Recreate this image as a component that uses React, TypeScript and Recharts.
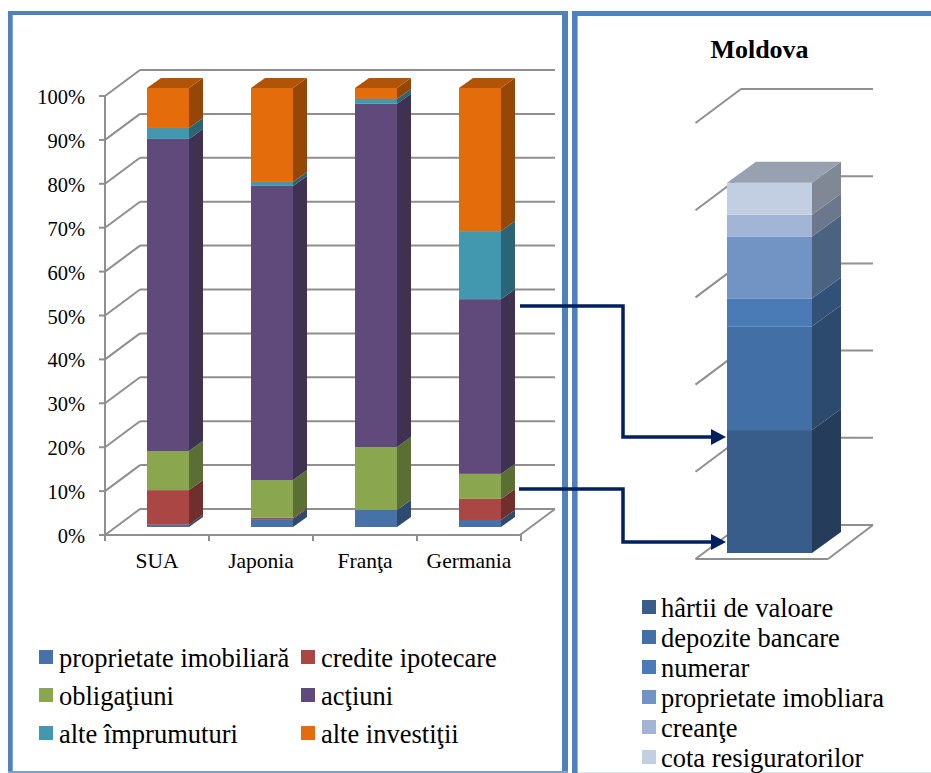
import { BarChart, Bar, CartesianGrid, XAxis, YAxis } from 'recharts'

const FONT = '"Liberation Serif", "Times New Roman", serif'
const GRID = '#8f8f8f'
const BORDER = '#4f81bd'
const NAVY = '#002060'

const countries = ['SUA', 'Japonia', 'Franţa', 'Germania']
const percentTicks = [0, 10, 20, 30, 40, 50, 60, 70, 80, 90, 100]

const proprietate = [0.5, 1.8, 3.9, 1.6]
const credite = [7.9, 0.3, 0, 4.8]
const obligatiuni = [8.9, 8.6, 14.3, 5.7]
const actiuni = [71.1, 67.0, 78.2, 39.8]
const imprumuturi = [2.5, 0.9, 1.1, 15.5]
const investitii = [9.1, 21.4, 2.5, 32.6]

const worldKeys = ['proprietate', 'credite', 'obligatiuni', 'actiuni', 'imprumuturi', 'investitii']
const worldSeries = [proprietate, credite, obligatiuni, actiuni, imprumuturi, investitii]
const worldNames = [
    'proprietate imobiliară',
    'credite ipotecare',
    'obligaţiuni',
    'acţiuni',
    'alte împrumuturi',
    'alte investiţii',
]
const worldColors = ['#4672a8', '#aa4644', '#8aa64f', '#604a7b', '#4198af', '#e46c0a']

const moldovaTicks = [0, 20, 40, 60, 80, 100]
const moldovaKeys = ['hartii', 'depozite', 'numerar', 'imobiliara', 'creante', 'cota']
const moldovaValues = [28.2, 23.8, 6.4, 14.2, 5.0, 7.3]
const moldovaNames = [
    'hârtii de valoare',
    'depozite bancare',
    'numerar',
    'proprietate imobliara',
    'creanţe',
    'cota resiguratorilor',
]
const moldovaColors = ['#385d8a', '#426fa6', '#4a7bb6', '#7294c4', '#a2b5d6', '#c2cee2']

const worldData = countries.map((name, i) => {
    const row: Record<string, string | number> = { name }
    worldKeys.forEach((key, k) => {
        row[key] = worldSeries[k][i]
    })
    return row
})

const moldovaRow: Record<string, string | number> = { name: 'Moldova' }
moldovaKeys.forEach((key, k) => {
    moldovaRow[key] = moldovaValues[k]
})
const moldovaData = [moldovaRow]

function shade(hex: string, factor: number): string {
    const n = parseInt(hex.slice(1), 16)
    const channel = (shift: number) => Math.round(((n >> shift) & 255) * factor)
    return `rgb(${channel(16)},${channel(8)},${channel(0)})`
}

// front face, right side and (for the top segment) the lid of a box
function Box3D({ x, y, width, height, fill, dx, dy, lid }: any) {
    if (!height || height <= 0) {
        return null
    }
    const r = x + width
    const b = y + height
    return (
        <g>
            <rect x={x} y={y} width={width} height={height} fill={fill} />
            <polygon
                points={`${r},${y} ${r + dx},${y - dy} ${r + dx},${b - dy} ${r},${b}`}
                fill={shade(fill, 0.66)}
            />
            {lid ? (
                <polygon
                    points={`${x},${y} ${x + dx},${y - dy} ${r + dx},${y - dy} ${r},${y}`}
                    fill={shade(fill, 0.78)}
                />
            ) : null}
        </g>
    )
}

const WALL = { drop: 8, axisX: 105, backX: 140, rightX: 555, rise: 26 }

function line(x1: number, y1: number, x2: number, y2: number, width = 2) {
    return <line x1={x1} y1={y1} x2={x2} y2={y2} stroke={GRID} strokeWidth={width} />
}

// left chart: wall lines are shifted down to the front plane of the 3D box
function WorldWallLine({ y1 }: any) {
    const fy = y1 + WALL.drop
    const isFloor = y1 > 520
    return (
        <g key={y1}>
            {line(WALL.axisX - 6, fy, WALL.axisX, fy)}
            {line(WALL.axisX, fy, WALL.backX, fy - WALL.rise)}
            {line(WALL.backX, fy - WALL.rise, WALL.rightX, fy - WALL.rise)}
            {isFloor ? line(WALL.axisX, fy, WALL.axisX, 96) : null}
            {isFloor ? line(WALL.axisX, fy, 520, fy) : null}
            {isFloor ? line(520, fy, WALL.rightX, fy - WALL.rise) : null}
        </g>
    )
}

function WorldYTick({ y, payload }: any) {
    return (
        <text x={85} y={y + WALL.drop + 8} textAnchor="end" fontFamily={FONT} fontSize={20.5} fill="#000">
            {payload.value}%
        </text>
    )
}

function WorldXTick({ x, payload }: any) {
    const cx = x - 11
    return (
        <g>
            {line(cx - 52, 535, cx - 52, 541)}
            {line(cx + 52, 535, cx + 52, 541)}
            <text x={cx} y={568} textAnchor="middle" fontFamily={FONT} fontSize={21.5} fill="#000">
                {payload.value}
            </text>
        </g>
    )
}

// right chart has no labels, only the diagonal and back lines of the box (local coordinates)
function MoldovaWallLine({ y1 }: any) {
    const fy = y1 + 6
    const isFloor = y1 > 540
    return (
        <g key={y1}>
            {line(125.5, fy, 171, fy - 34)}
            {line(171, fy - 34, 303, fy - 34)}
            {isFloor ? line(125.5, fy, 258, fy) : null}
            {isFloor ? line(258, fy, 303, fy - 34) : null}
        </g>
    )
}

function WorldChart() {
    return (
        <div style={{ position: 'absolute', left: 0, top: 0 }}>
            <BarChart
                width={560}
                height={620}
                data={worldData}
                barSize={42}
                margin={{ top: 88, right: 28, bottom: 63, left: 56 }}
            >
                <CartesianGrid vertical={false} horizontal={WorldWallLine} />
                <XAxis dataKey="name" height={30} axisLine={false} tickLine={false} tick={WorldXTick} interval={0} />
                <YAxis
                    width={60}
                    domain={[0, 100]}
                    ticks={percentTicks}
                    interval={0}
                    axisLine={false}
                    tickLine={false}
                    tick={WorldYTick}
                />
                {worldKeys.map((key, k) => (
                    <Bar
                        key={key}
                        dataKey={key}
                        stackId="a"
                        fill={worldColors[k]}
                        isAnimationActive={false}
                        shape={(p: any) => <Box3D {...p} dx={14} dy={10} lid={k === worldKeys.length - 1} />}
                    />
                ))}
            </BarChart>
        </div>
    )
}

function MoldovaChart() {
    return (
        <div style={{ position: 'absolute', left: 570, top: 0 }}>
            <BarChart
                width={361}
                height={620}
                data={moldovaData}
                barSize={85}
                margin={{ top: 117, right: 92, bottom: 67, left: 130 }}
            >
                <CartesianGrid vertical={false} horizontal={MoldovaWallLine} />
                <XAxis dataKey="name" hide />
                <YAxis hide domain={[0, 100]} ticks={moldovaTicks} interval={0} />
                {moldovaKeys.map((key, k) => (
                    <Bar
                        key={key}
                        dataKey={key}
                        stackId="m"
                        fill={moldovaColors[k]}
                        isAnimationActive={false}
                        shape={(p: any) => <Box3D {...p} dx={29} dy={21} lid={k === moldovaKeys.length - 1} />}
                    />
                ))}
            </BarChart>
        </div>
    )
}

function LegendItem({ x, y, textX, color, label }: { x: number; y: number; textX: number; color: string; label: string }) {
    return (
        <g>
            <rect x={x} y={y - 16} width={14} height={14} fill={color} />
            <text x={textX} y={y + 1} fontFamily={FONT} fontSize={26.5} fill="#000">
                {label}
            </text>
        </g>
    )
}

function Arrow({ points, tipX, tipY }: { points: string; tipX: number; tipY: number }) {
    return (
        <g>
            <polyline points={points} fill="none" stroke={NAVY} strokeWidth={3.5} />
            <polygon points={`${tipX},${tipY} ${tipX - 15},${tipY - 8} ${tipX - 15},${tipY + 8}`} fill={NAVY} />
        </g>
    )
}

// panel frames, title, legends and connector arrows sit on a layer above the charts
function Overlay() {
    return (
        <svg width={931} height={773} style={{ position: 'absolute', left: 0, top: 0, pointerEvents: 'none' }}>
            <rect x={8} y={11} width={4.7} height={762} fill={BORDER} />
            <rect x={8} y={11} width={560} height={4} fill={BORDER} />
            <rect x={562} y={11} width={6} height={762} fill={BORDER} />
            <rect x={8} y={771} width={560} height={2} fill="#7da0d0" />
            <rect x={572} y={11} width={5.6} height={762} fill={BORDER} />
            <rect x={572} y={11} width={359} height={5} fill={BORDER} />
            <rect x={578} y={772} width={353} height={1} fill="#dfe8f4" />

            <text x={759.5} y={58} textAnchor="middle" fontFamily={FONT} fontWeight={700} fontSize={26} fill="#000">
                Moldova
            </text>

            {worldNames.map((name, i) => (
                <LegendItem
                    key={name}
                    x={i % 2 === 0 ? 39 : 301}
                    textX={i % 2 === 0 ? 59 : 321}
                    y={666 + 38 * Math.floor(i / 2)}
                    color={worldColors[i]}
                    label={name}
                />
            ))}
            {moldovaNames.map((name, i) => (
                <LegendItem key={name} x={642} textX={661} y={616 + 30 * i} color={moldovaColors[i]} label={name} />
            ))}

            <Arrow points="520,306 623,306 623,437 712,437" tipX={726} tipY={437} />
            <Arrow points="519,489 623,489 623,542 712,542" tipX={726} tipY={542} />
        </svg>
    )
}

export default function App() {
    return (
        <div style={{ position: 'absolute', left: 0, top: 0, width: 931, height: 773, overflow: 'hidden', background: '#fff' }}>
            <WorldChart />
            <MoldovaChart />
            <Overlay />
        </div>
    )
}
